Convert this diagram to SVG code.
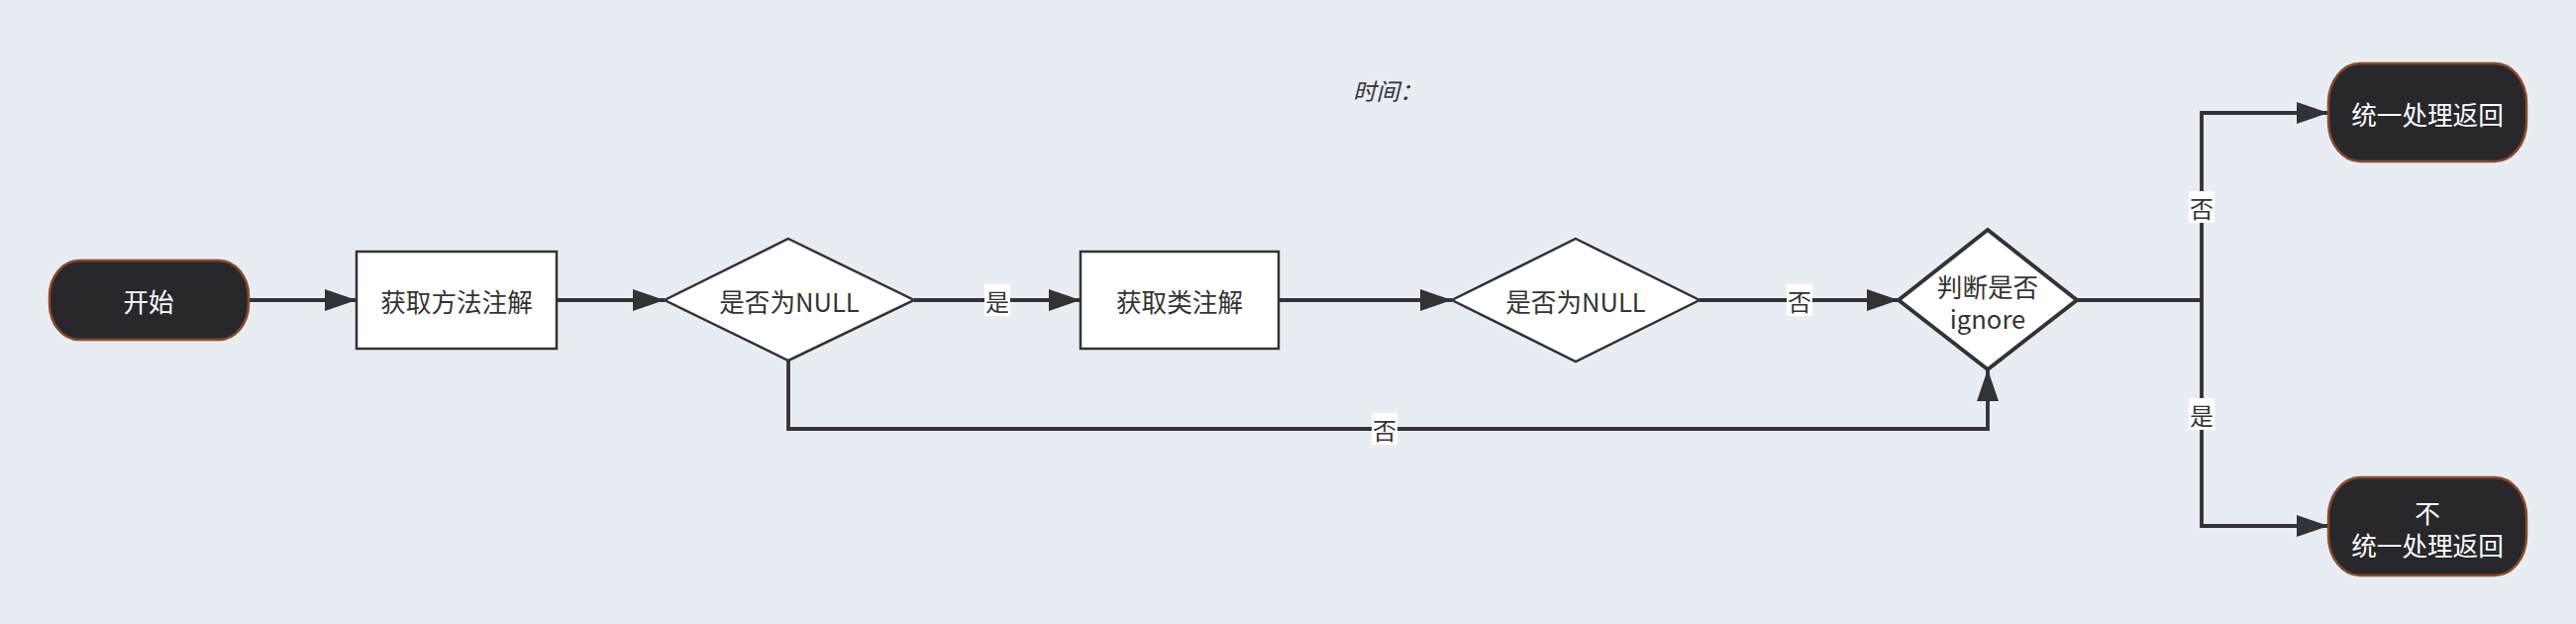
<svg xmlns="http://www.w3.org/2000/svg" width="2601" height="630" viewBox="0 0 2601 630">
<defs>
<marker id="arr" markerUnits="userSpaceOnUse" markerWidth="34" markerHeight="24" refX="32" refY="11" orient="auto">
<path d="M0,0 L32,11 L0,22 Z" fill="#333333"/>
</marker>
<style>
.t{font-family:"Noto Sans CJK SC","Noto Sans",sans-serif;font-size:25.6px;text-anchor:middle;dominant-baseline:central}
.term rect{fill:#28282c;stroke:#8a4a2a;stroke-width:2.5}
.term text{fill:#ffffff}
.box rect,.dia polygon{fill:#ffffff;stroke:#333333;stroke-width:2.5}
.box text,.dia text{fill:#333333}
.dia.thick polygon{stroke-width:4}
.c{fill:none;stroke:#333333;stroke-width:3.8}
.lb rect{fill:#ffffff}
.lb text{font-family:"Noto Sans CJK SC","Noto Sans",sans-serif;font-size:24px;fill:#333333;text-anchor:middle;dominant-baseline:central}
</style>
</defs>
<rect width="2601" height="630" fill="#e8edf4"/>
<text x="1366" y="101" font-family="Noto Sans CJK SC, Noto Sans, sans-serif" font-size="23.5" font-style="italic" fill="#333333">时间：</text>
<g id="connectors">
<path class="c" d="M251,303 H360" marker-end="url(#arr)"/>
<path class="c" d="M562,303 H671" marker-end="url(#arr)"/>
<path class="c" d="M923,303 H1091" marker-end="url(#arr)"/>
<path class="c" d="M1291,303 H1466" marker-end="url(#arr)"/>
<path class="c" d="M1716,303 H1917" marker-end="url(#arr)"/>
<path class="c" d="M796,364 V433 H2007 V373" marker-end="url(#arr)"/>
<path class="c" d="M2097,303 H2223 V114 H2351" marker-end="url(#arr)"/>
<path class="c" d="M2223,303 V531 H2351" marker-end="url(#arr)"/>
<g class="lb"><rect x="994" y="287" width="26" height="32"/><text x="1007" y="303">是</text></g>
<g class="lb"><rect x="1804" y="287" width="26" height="32"/><text x="1817" y="303">否</text></g>
<g class="lb"><rect x="1385" y="417" width="26" height="32"/><text x="1398" y="433">否</text></g>
<g class="lb"><rect x="2210" y="193" width="26" height="32"/><text x="2223" y="209">否</text></g>
<g class="lb"><rect x="2210" y="402" width="26" height="32"/><text x="2223" y="418">是</text></g>
</g>
<g id="start" class="term"><rect x="50" y="263" width="201" height="80" rx="30" ry="36"/><text class="t" x="150" y="303">开始</text></g>
<g id="getMethod" class="box"><rect x="360" y="254" width="202" height="98"/><text class="t" x="461" y="303">获取方法注解</text></g>
<g id="isNull1" class="dia"><polygon points="796,241 923,303 796,364 671,303"/><text class="t" x="797" y="303">是否为NULL</text></g>
<g id="getClass" class="box"><rect x="1091" y="254" width="200" height="98"/><text class="t" x="1191" y="303">获取类注解</text></g>
<g id="isNull2" class="dia"><polygon points="1591,241 1716,303 1591,365 1466,303"/><text class="t" x="1591" y="303">是否为NULL</text></g>
<g id="ignore" class="dia thick"><polygon points="2007,232 2097,303 2007,373 1917,303"/><text class="t" x="2007" y="288">判断是否</text><text class="t" x="2007" y="320">ignore</text></g>
<g id="unified" class="term"><rect x="2351" y="64" width="200" height="99" rx="32" ry="40"/><text class="t" x="2451" y="114">统一处理返回</text></g>
<g id="notUnified" class="term"><rect x="2351" y="482" width="200" height="99" rx="32" ry="40"/><text class="t" x="2451" y="516">不</text><text class="t" x="2451" y="549">统一处理返回</text></g>
</svg>
